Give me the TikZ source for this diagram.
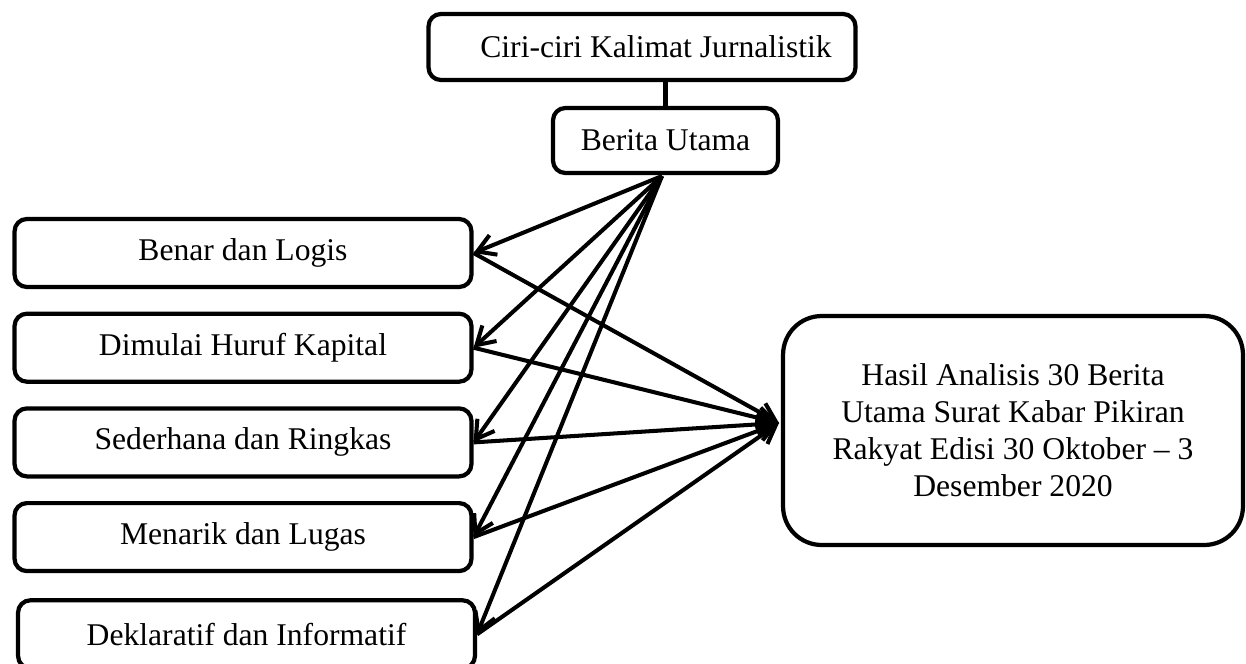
\documentclass[tikz,border=0pt]{standalone}
\usepackage{fontspec}
\setmainfont{Liberation Serif}
\usetikzlibrary{shapes,arrows.meta}
\usetikzlibrary{positioning}

\tikzset{
 kotak/.style={draw, line width=2.4pt, rounded corners=7pt, inner sep=0pt,
   minimum width=9.14cm, minimum height=1.36cm, font=\fontsize{18}{21}\selectfont},
 panah/.style={line width=2.3pt, -{Straight Barb[length=10pt,width=12pt]}},
}

\begin{document}
\begin{tikzpicture}[x=0.02cm, y=-0.02cm]
 \clip (0,0) rectangle (1246,663);

 \node[kotak, minimum width=8.54cm, minimum height=1.32cm] (ciri) at (642,47) {\hspace*{0.56cm}Ciri-ciri Kalimat Jurnalistik};
 \node[kotak, minimum width=4.5cm, minimum height=1.3cm] (berita) at (665.5,140.5) {Berita Utama};

 \node[kotak] (b1) at (243,253) {Benar dan Logis};
 \node[kotak, below=0.45cm of b1] (b2) {Dimulai Huruf Kapital};
 \node[kotak, below=0.45cm of b2] (b3) {Sederhana dan Ringkas};
 \node[kotak, below=0.45cm of b3] (b4) {Menarik dan Lugas};
 \node[kotak, below=0.5cm of b4, xshift=2pt] (b5) {Deklaratif dan Informatif};

 \node[kotak, rounded corners=22pt, minimum width=9.2cm, minimum height=4.58cm, align=center] (hasil) at (1013,430.5)
   {Hasil Analisis 30 Berita\\Utama Surat Kabar Pikiran\\Rakyat Edisi 30 Oktober -- 3\\Desember 2020};

 \draw[line width=3pt] (berita.north |- ciri.south) -- (berita.north);

 \coordinate (pusat) at (662,176);
 \coordinate (muara) at (779,423);

 % dari berita utama ke tiap ciri
 \foreach \b in {b1,b2,b3,b4,b5}
   \draw[panah] (pusat) -- (\b.east);

 % dari tiap ciri ke hasil analisis
 \foreach \b in {b1,b2,b3,b4,b5}
   \draw[panah] (\b.east) -- (muara);

\end{tikzpicture}
\end{document}
